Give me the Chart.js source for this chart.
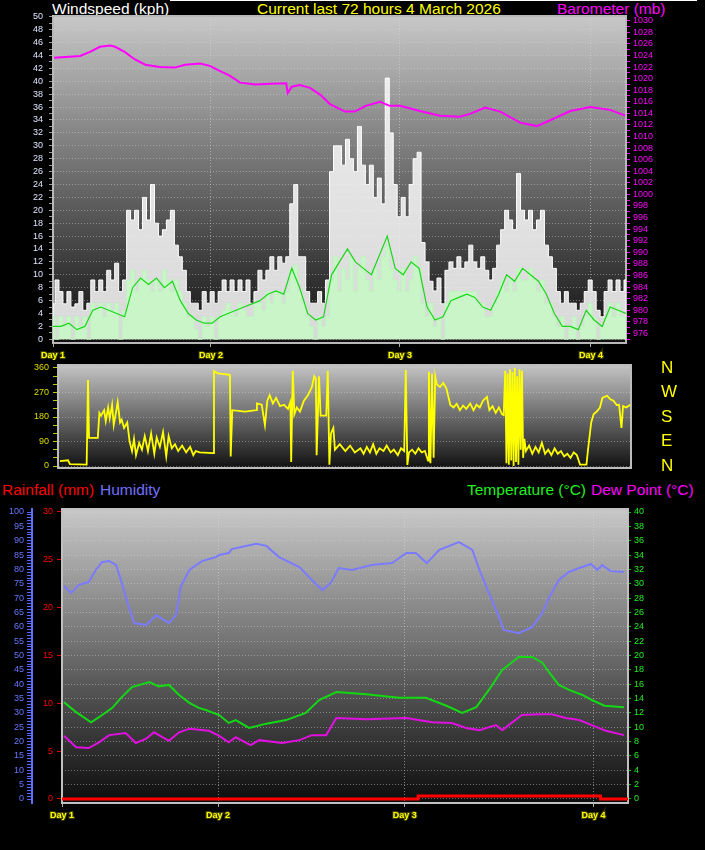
<!DOCTYPE html>
<html>
<head>
<meta charset="utf-8">
<script src="https://cdn.jsdelivr.net/npm/chart.js@4.4.1/dist/chart.umd.min.js"></script>
<style>
  body { margin: 0; background: #000; width: 705px; height: 850px; overflow: hidden; position: relative;
         font-family: 'Liberation Sans', Arial, sans-serif; }
  canvas { position: absolute; left: 0; }
  .t { position: absolute; white-space: nowrap; font-size: 15.5px; line-height: 16px; }
</style>
</head>
<body>
<div style="position:absolute;left:170px;top:0;width:527px;height:1px;background:#fff"></div>
<div class="t" style="left:52px;top:1px;color:#fff">Windspeed (kph)</div>
<div class="t" style="left:257px;top:1px;color:#ffff00">Current last 72 hours 4 March 2026</div>
<div class="t" style="left:557px;top:1px;color:#ff00ff">Barometer (mb)</div>
<div class="t" style="left:2px;top:482px;color:#ff0000">Rainfall (mm)</div>
<div class="t" style="left:100px;top:482px;color:#7070ff">Humidity</div>
<div class="t" style="left:467px;top:482px;color:#22ee22">Temperature (°C)</div>
<div class="t" style="left:591px;top:482px;color:#ff00ff">Dew Point (°C)</div>

<canvas id="windChart" width="705" height="360" style="top:0"></canvas>
<canvas id="dirChart" width="705" height="130" style="top:355px"></canvas>
<canvas id="climateChart" width="705" height="350" style="top:500px"></canvas>

<script>
// x axis: hours since start of the 72 hour window
const dayTicks = [0, 19.85, 43.6, 67.6];
const dayLabels = ['Day 1', 'Day 2', 'Day 3', 'Day 4'];

// tick labels
const windTicks = [0, 2, 4, 6, 8, 10, 12, 14, 16, 18, 20, 22, 24, 26, 28, 30, 32, 34, 36, 38, 40, 42, 44, 46, 48, 50];
const baroTicks = [976, 978, 980, 982, 984, 986, 988, 990, 992, 994, 996, 998, 1000, 1002, 1004, 1006, 1008, 1010,
  1012, 1014, 1016, 1018, 1020, 1022, 1024, 1026, 1028, 1030];
const dirTicks = [0, 90, 180, 270, 360];
const compassLabels = ['N', 'E', 'S', 'W', 'N'];
const humTicks = [0, 5, 10, 15, 20, 25, 30, 35, 40, 45, 50, 55, 60, 65, 70, 75, 80, 85, 90, 95, 100];
const rainTicks = [0, 5, 10, 15, 20, 25, 30];
const tempTicks = [0, 2, 4, 6, 8, 10, 12, 14, 16, 18, 20, 22, 24, 26, 28, 30, 32, 34, 36, 38, 40];

// wind gust, half-hourly (kph)
const windGust = [
  5.5, 9.2, 7.4, 5.5, 7.4, 5.0, 5.5, 7.4, 4.5, 5.6,
  9.2, 7.4, 9.2, 7.4, 10.7, 9.2, 11.8, 7.4, 9.2, 20,
  18.5, 20, 17, 22, 18.5, 24, 18, 16, 17, 18.5,
  20, 14.6, 12.8, 10.7, 7.4, 5.6, 5.6, 4.5, 7.4, 5.6,
  7.4, 5.6, 7.4, 9.2, 7.4, 9.2, 7.4, 9.2, 7.4, 9.2,
  5.6, 7.4, 10.7, 9.2, 10.7, 12.8, 10.7, 12.8, 11.8, 12.8,
  21, 24, 12.8, 12.8, 7.4, 5.6, 5.6, 7.4, 5.6, 9.2,
  26, 30, 30, 27, 31, 28, 26, 33, 27, 24,
  27, 22, 25, 21, 40.5, 32, 24, 19, 22, 19,
  24, 28, 29, 15, 12, 9, 7.5, 9.5, 5.5, 10.7,
  12, 11, 12.8, 11, 12, 14.6, 12, 11, 12.8, 10.7,
  9.2, 11, 14.6, 17, 20, 18.5, 17, 25.7, 20, 18.5,
  20, 17, 18.5, 20, 14.6, 12.8, 11, 7.4, 5.6, 7.4,
  5.6, 5.6, 4.5, 5.6, 7.4, 9.2, 7.4, 4.5, 3.5, 7.4,
  9.2, 7.4, 9.2, 7.4, 9.2
];
// wind speed, half-hourly (kph)
const windSpeed = [
  3.5, 0, 3.5, 2, 3.5, 0, 3.5, 2, 3.5, 0,
  5.6, 4.5, 5.6, 3.5, 5.6, 4.5, 5.6, 0, 4.5, 9.2,
  10.7, 7.4, 9.2, 10.7, 9.2, 7.4, 9.2, 7.4, 10.7, 9.2,
  7.4, 9.2, 7.4, 5.6, 3.5, 3.5, 1.5, 0, 3.5, 2,
  3.5, 0, 3.5, 4.5, 5.6, 4.5, 3.5, 5.6, 4.5, 3.5,
  3.5, 5.6, 5.6, 4.5, 7.4, 5.6, 7.4, 7.4, 5.6, 7.4,
  10.7, 11.5, 7.4, 5.6, 3.5, 2, 0, 3.5, 2, 3.5,
  9.2, 12.8, 7.4, 11, 9.2, 12.8, 7.4, 11, 12.8, 9.2,
  7.4, 11, 9.2, 12.8, 14.6, 11, 9.2, 7.4, 11, 7.4,
  9.2, 12.8, 11, 5.6, 3.5, 5.6, 2, 3.5, 0, 5.6,
  7.4, 7.4, 7.4, 7.4, 7.4, 7.4, 7.4, 5.6, 5.6, 3.5,
  3.5, 5.6, 7.4, 9.2, 7.4, 9.2, 7.4, 11, 9.2, 9.2,
  11, 9.2, 7.4, 9.2, 5.6, 5.6, 3.5, 2, 3.5, 0,
  2, 3.5, 0, 2, 3.5, 5.6, 3.5, 0, 2, 3.5,
  5.6, 3.5, 5.6, 3.5, 3.5
];
// average wind, hourly (kph)
const windAverage = [
  2, 2, 2.5, 1.5, 2, 4.5, 5, 4.5, 4, 3.5,
  8, 9.5, 8.5, 9.5, 8, 9, 6, 4, 3, 2.5,
  2.5, 3.5, 4, 4.5, 5, 5.5, 6, 7, 7.5, 7,
  11, 8, 4, 3, 3.5, 10, 12, 14, 12, 11,
  10, 13, 16, 11, 10, 12, 11, 5, 3, 3.5,
  6, 6.5, 7, 6.5, 5, 4.5, 7, 10, 9, 11,
  10, 9, 7, 4, 2, 2, 1.5, 4.5, 3, 2,
  5, 4.5, 4
];

// barometer (mb)
const baroHours = [0.13, 3.4, 4.65, 5.9, 7.2, 7.8, 9.0, 10.3, 11.6, 13.4,
  15.3, 16.6, 18.5, 19.7, 21.0, 22.2, 23.5, 25.4, 27.3, 29.3,
  29.5, 30.0, 31.0, 32.3, 33.6, 34.8, 36.7, 37.9, 39.3, 41.1,
  42.3, 43.6, 46.1, 48.6, 51.1, 52.4, 54.3, 56.2, 58.7, 60.8,
  63.1, 65.0, 67.5, 70.0, 71.9];
const baroValues = [1023.6, 1023.9, 1024.6, 1025.5, 1025.7, 1025.5, 1024.6, 1023.3, 1022.4, 1022.0,
  1021.9, 1022.4, 1022.6, 1022.2, 1021.3, 1020.5, 1019.3, 1019.0, 1019.1, 1019.2,
  1017.5, 1018.6, 1018.9, 1018.4, 1017.2, 1015.6, 1014.3, 1014.3, 1015.3, 1016.0,
  1015.3, 1015.3, 1014.4, 1013.6, 1013.4, 1013.9, 1015.0, 1014.3, 1012.4, 1011.8,
  1013.2, 1014.4, 1015.1, 1014.6, 1013.6];

// wind direction (degrees)
const dirHours = [0.25, 1.26, 1.5, 3.6, 3.77, 3.9, 5.0, 5.2, 5.4, 5.8,
  6.0, 6.3, 6.5, 6.8, 7.0, 7.3, 7.5, 7.8, 8.0, 8.3,
  8.7, 9.0, 9.3, 9.55, 9.8, 10.2, 10.55, 10.9, 11.3, 11.7,
  12.1, 12.4, 12.8, 13.2, 13.6, 13.9, 14.3, 14.7, 15.1, 15.6,
  16.1, 16.6, 17.0, 17.3, 17.8, 19.5, 19.6, 20.1, 21.6, 21.7,
  21.9, 23.5, 24.9, 25.0, 25.6, 26.0, 26.3, 26.6, 27.0, 27.4,
  27.9, 28.4, 28.9, 29.2, 29.3, 29.5, 29.7, 30.0, 30.4, 30.9,
  31.4, 31.9, 32.2, 32.4, 32.5, 32.8, 33.0, 33.7, 33.9, 34.1,
  34.3, 34.6, 34.8, 35.4, 36.1, 36.7, 37.3, 38.0, 38.4, 38.8,
  39.2, 39.6, 40.0, 40.4, 40.9, 41.3, 41.8, 42.2, 42.7, 43.1,
  43.5, 43.7, 43.9, 44.1, 44.5, 44.9, 45.3, 45.7, 46.1, 46.5,
  46.6, 46.8, 47.0, 47.2, 47.4, 47.6, 48.0, 48.4, 48.8, 49.3,
  49.7, 50.1, 50.5, 50.9, 51.3, 51.8, 52.2, 52.6, 53.0, 53.4,
  53.9, 54.2, 54.6, 55.0, 55.4, 55.8, 56.0, 56.2, 56.35, 56.5,
  56.65, 56.8, 56.95, 57.1, 57.25, 57.4, 57.55, 57.7, 57.85, 58.0,
  58.15, 58.3, 58.45, 58.6, 58.8, 59.2, 59.6, 60.0, 60.4, 60.8,
  61.2, 61.6, 62.0, 62.4, 62.8, 63.2, 63.6, 64.0, 64.4, 64.8,
  65.2, 65.6, 66.4, 66.6, 67.0, 67.3, 67.7, 68.1, 68.4, 69.0,
  69.4, 69.8, 70.2, 70.5, 70.8, 71.0, 71.4, 71.9];
const dirDegrees = [18, 21, 7, 5, 316, 103, 103, 195, 185, 205,
  165, 215, 175, 225, 150, 200, 235, 160, 170, 140,
  160, 90, 55, 100, 40, 85, 60, 110, 55, 120,
  45, 105, 70, 125, 35, 110, 65, 80, 55, 75,
  50, 70, 40, 55, 50, 47, 349, 340, 335, 35,
  205, 200, 205, 230, 225, 150, 240, 260, 230, 250,
  220, 225, 210, 235, 15, 350, 190, 215, 200, 240,
  260, 290, 330, 320, 40, 330, 185, 185, 350, 5,
  120, 140, 60, 80, 55, 75, 50, 65, 45, 70,
  50, 80, 45, 65, 55, 75, 50, 60, 40, 65,
  55, 353, 4, 50, 60, 45, 65, 50, 55, 20,
  346, 10, 340, 30, 330, 300, 290, 305, 285, 224,
  215, 228, 205, 222, 210, 230, 205, 225, 215, 240,
  254, 205, 220, 195, 215, 190, 187, 350, 10, 340,
  5, 355, 20, 345, 0, 360, 15, 330, 5, 355,
  60, 350, 30, 100, 55, 75, 45, 70, 50, 85,
  45, 60, 40, 65, 45, 55, 35, 45, 30, 50,
  40, 5, 5, 60, 160, 190, 200, 215, 250, 258,
  245, 240, 224, 225, 140, 220, 215, 225];

// humidity (%)
const humHours = [0.25, 1.15, 2.15, 3.4, 4.3, 5.1, 6.0, 6.9, 7.6, 8.5,
  9.2, 10.7, 12.0, 13.6, 14.5, 15.1, 16.2, 17.8, 19.6, 20.0,
  21.2, 21.6, 24.7, 26.0, 27.6, 30.2, 31.8, 33.1, 34.2, 35.2,
  36.9, 39.4, 42.0, 43.8, 45.0, 46.4, 48.0, 50.5, 52.2, 53.1,
  54.3, 55.6, 56.2, 58.1, 59.8, 61.1, 62.0, 63.2, 64.5, 65.8,
  67.3, 68.1, 68.7, 69.8, 71.5];
const humValues = [74.2, 71.8, 74.6, 75.6, 79.8, 82.6, 82.9, 81.5, 75.3, 66.9,
  61.3, 60.6, 64.1, 61.3, 64.1, 73.9, 79.8, 82.9, 84.3, 85.0,
  85.7, 87.1, 88.9, 88.2, 84.3, 80.8, 76.3, 72.8, 75.3, 80.5,
  79.8, 81.5, 82.2, 85.7, 85.7, 82.2, 86.8, 89.5, 86.8, 79.8,
  71.8, 63.4, 58.9, 57.8, 59.9, 64.8, 70.4, 76.3, 79.1, 80.5,
  81.9, 79.8, 81.5, 79.4, 79.1];

// temperature (°C)
const tempHours = [0.25, 1.8, 3.7, 4.7, 6.4, 7.6, 8.9, 11.1, 12.3, 13.6,
  14.9, 16.2, 17.4, 18.3, 20.0, 21.2, 22.1, 23.8, 26.0, 28.5,
  31.0, 32.7, 34.9, 38.7, 42.9, 46.3, 48.9, 50.9, 52.7, 54.3,
  56.0, 58.1, 59.8, 61.1, 62.0, 63.2, 64.5, 66.2, 67.4, 69.0,
  71.5];
const tempValues = [13.5, 12.1, 10.7, 11.4, 12.7, 14.2, 15.6, 16.3, 15.7, 15.9,
  14.5, 13.4, 12.7, 12.4, 11.7, 10.6, 11.0, 9.9, 10.5, 11.0,
  12.0, 13.8, 14.9, 14.6, 14.1, 14.1, 13.0, 12.0, 12.8, 15.2,
  18.0, 19.8, 19.8, 19.0, 17.6, 15.9, 15.2, 14.5, 13.8, 13.0,
  12.8];

// dew point (°C)
const dewHours = [0.25, 1.8, 3.4, 4.7, 6.0, 8.1, 9.4, 10.7, 11.7, 13.6,
  14.9, 16.2, 18.7, 20.0, 21.2, 22.1, 24.0, 25.1, 28.0, 30.2,
  31.8, 33.6, 34.9, 38.7, 43.8, 47.1, 49.6, 51.4, 53.1, 55.2,
  56.0, 58.5, 60.7, 62.3, 64.1, 65.8, 67.4, 69.2, 71.5];
const dewValues = [8.8, 7.2, 7.1, 7.9, 8.9, 9.2, 7.8, 8.4, 9.3, 8.1,
  9.3, 9.8, 9.5, 8.8, 7.9, 8.6, 7.5, 8.2, 7.8, 8.2,
  8.9, 8.9, 11.3, 11.1, 11.3, 10.7, 10.6, 9.9, 9.6, 10.3,
  9.6, 11.7, 11.8, 11.8, 11.3, 11.0, 10.3, 9.5, 8.9];

// rainfall today (mm)
const rainHours = [0, 45.3, 68.5, 72];
const rainValues = [0, 0.3, 0, 0];

// ---------------------------------------------------------------
const pts = (xs, ys) => ys.map((y, i) => ({ x: xs[i], y }));
const every = (ys, step) => ys.map((y, i) => ({ x: i * step, y }));
function tickRange(from, to, step) {
  const out = [];
  for (let v = from; v <= to + 1e-9; v += step) out.push({ value: Math.round(v * 100) / 100 });
  return out;
}
const asTicks = list => list.map(v => ({ value: v }));
// fixed axis size, no extra room for half labels
const fixWidth = w => s => { s.width = w; s.paddingTop = 0; s.paddingBottom = 0; };

Chart.defaults.font.family = "'Liberation Sans', Arial, sans-serif";
Chart.defaults.font.size = 9;
Chart.defaults.animation = false;
Chart.defaults.plugins.legend.display = false;
Chart.defaults.plugins.tooltip.enabled = false;
Chart.defaults.elements.point.radius = 0;
Chart.defaults.elements.line.tension = 0;

// grey gradient behind each plot and a light frame round it
Chart.register({
  id: 'plotFrame',
  beforeDraw(chart, args, opts) {
    const { ctx, chartArea: a } = chart;
    const g = ctx.createLinearGradient(0, a.top, 0, a.bottom);
    g.addColorStop(0, opts.top || '#c8c8c8');
    g.addColorStop(1, opts.bottom || '#0c0c0c');
    ctx.save();
    ctx.fillStyle = g;
    ctx.fillRect(a.left, a.top, a.right - a.left, a.bottom - a.top);
    ctx.restore();
  },
  beforeDatasetsDraw(chart, args, opts) {
    const { ctx, chartArea: a } = chart;
    ctx.save();
    ctx.strokeStyle = opts.edge || '#b4b4b4';
    ctx.lineWidth = 2;
    ctx.strokeRect(a.left, a.top, a.right - a.left, a.bottom - a.top);
    ctx.restore();
  }
});

const gridDot = 'rgba(215,215,215,0.45)';

function dayAxis(height, showLabels, showGrid) {
  return {
    type: 'linear', min: 0, max: 72,
    afterBuildTicks: s => { s.ticks = asTicks(dayTicks); },
    afterFit: s => { s.height = height; s.paddingLeft = 0; s.paddingRight = 0; },
    ticks: {
      display: showLabels, autoSkip: false, maxRotation: 0, padding: 3,
      color: '#ffff00', font: { size: 9, weight: 'bold' },
      textStrokeColor: 'rgba(70,70,0,0.9)', textStrokeWidth: 2,
      callback: (v, i) => dayLabels[i]
    },
    grid: { display: showGrid, color: 'rgba(215,215,215,0.55)', tickColor: '#aaaaaa', tickLength: 4 },
    border: { display: false, dash: [1, 2] }
  };
}

// wind speed + barometer
new Chart(document.getElementById('windChart'), {
  type: 'line',
  data: {
    datasets: [
      { data: pts(baroHours, baroValues), yAxisID: 'yBaro', borderColor: '#ff00ff', borderWidth: 2, order: 0 },
      { data: every(windAverage, 1), yAxisID: 'yWind', borderColor: '#18d818', borderWidth: 1.2, order: 1 },
      { data: every(windSpeed, 0.5), yAxisID: 'yWind', stepped: 'middle', borderColor: '#bff3bf', borderWidth: 1,
        backgroundColor: '#c9f5c9', fill: 'origin', order: 2 },
      { data: every(windGust, 0.5), yAxisID: 'yWind', stepped: 'middle', borderColor: '#ffffff', borderWidth: 1,
        backgroundColor: 'rgba(245,245,245,0.88)', fill: 'origin', order: 3 }
    ]
  },
  options: {
    responsive: false,
    layout: { padding: { top: 16, left: 0, right: 0, bottom: 0 } },
    plugins: { plotFrame: { top: '#c8c8c8', bottom: '#0e0e0e', edge: '#b8b8b8' } },
    scales: {
      x: dayAxis(17, true, true),
      yWind: {
        position: 'left', min: -0.57, max: 50.12,
        afterBuildTicks: s => { s.ticks = tickRange(0, 50, 1); },
        afterFit: fixWidth(53),
        ticks: { color: '#dfe6ff', padding: 6, autoSkip: false, callback: v => windTicks.includes(v) ? v : '' },
        grid: { color: c => windTicks.includes(c.tick && c.tick.value) ? gridDot : 'rgba(0,0,0,0)',
                tickColor: '#9a9a9a', tickLength: 4 },
        border: { display: true, color: '#d8d8d8', width: 2, dash: [1, 2] }
      },
      yBaro: {
        position: 'right', min: 974.34, max: 1030.81,
        afterBuildTicks: s => { s.ticks = tickRange(975, 1030, 1); },
        afterFit: fixWidth(79),
        ticks: { color: '#ff00ff', padding: 3, autoSkip: false, callback: v => baroTicks.includes(v) ? v : '' },
        grid: { drawOnChartArea: false, color: '#ff00ff', tickLength: 4 },
        border: { display: true, color: '#cc00cc', width: 1 }
      }
    }
  }
});

// wind direction
new Chart(document.getElementById('dirChart'), {
  type: 'line',
  data: {
    datasets: [
      { data: pts(dirHours, dirDegrees), yAxisID: 'yDir', borderColor: '#ffff00', borderWidth: 1.8 }
    ]
  },
  options: {
    responsive: false,
    layout: { padding: { top: 10, left: 0, right: 0, bottom: 0 } },
    plugins: { plotFrame: { top: '#c4c4c4', bottom: '#111111', edge: '#bcbcbc' } },
    scales: {
      x: dayAxis(17, false, false),
      yDir: {
        position: 'left', min: -7.3, max: 371,
        afterBuildTicks: s => { s.ticks = tickRange(0, 360, 30); },
        afterFit: fixWidth(58),
        ticks: { color: '#dcdc00', padding: 4, autoSkip: false, callback: v => dirTicks.includes(v) ? v : '' },
        grid: { color: c => dirTicks.includes(c.tick && c.tick.value) ? gridDot : 'rgba(0,0,0,0)',
                tickColor: '#c8c800', tickLength: 5 },
        border: { display: true, color: '#e6e6e6', width: 2, dash: [1, 2] }
      },
      yCompass: {
        position: 'right', min: -7.3, max: 371,
        afterBuildTicks: s => { s.ticks = asTicks(dirTicks); },
        afterFit: fixWidth(74),
        ticks: { color: '#ffff00', padding: 22, autoSkip: false,
                 font: { family: "'Liberation Sans Narrow', 'Liberation Sans', sans-serif", size: 17 },
                 callback: (v, i) => compassLabels[i] },
        grid: { display: false },
        border: { display: false }
      }
    }
  }
});

// rainfall, humidity, temperature, dew point
new Chart(document.getElementById('climateChart'), {
  type: 'line',
  data: {
    datasets: [
      { data: pts(rainHours, rainValues), yAxisID: 'yRain', stepped: true, borderColor: '#ff0000', borderWidth: 3, order: 0 },
      { data: pts(humHours, humValues), yAxisID: 'yHum', borderColor: '#7b7bff', borderWidth: 2, order: 1 },
      { data: pts(tempHours, tempValues), yAxisID: 'yTemp', borderColor: '#14d814', borderWidth: 2, order: 2 },
      { data: pts(dewHours, dewValues), yAxisID: 'yTemp', borderColor: '#e010e0', borderWidth: 2, order: 3 }
    ]
  },
  options: {
    responsive: false,
    layout: { padding: { top: 9, left: 0, right: 0, bottom: 0 } },
    plugins: { plotFrame: { top: '#c8c8c8', bottom: '#0c0c0c', edge: '#c0c0c0' } },
    scales: {
      x: dayAxis(47, true, true),
      yHum: {
        position: 'left', weight: 2, min: -1.39, max: 101.05,
        afterBuildTicks: s => { s.ticks = tickRange(0, 100, 1); },
        afterFit: fixWidth(32),
        ticks: { color: '#6878ff', padding: 3, autoSkip: false, callback: v => humTicks.includes(v) ? v : '' },
        grid: { drawOnChartArea: false, color: '#5a66ff', tickLength: 5 },
        border: { display: true, color: '#6070ff', width: 2 }
      },
      yRain: {
        position: 'left', weight: 1, min: -0.42, max: 30.31,
        afterBuildTicks: s => { s.ticks = asTicks(rainTicks); },
        afterFit: fixWidth(30),
        ticks: { color: '#ff0000', padding: 4, autoSkip: false },
        grid: { drawOnChartArea: false, color: '#dd0000', tickLength: 5 },
        border: { display: false }
      },
      yTemp: {
        position: 'right', min: -0.56, max: 40.42,
        afterBuildTicks: s => { s.ticks = asTicks(tempTicks); },
        afterFit: fixWidth(77),
        ticks: { color: '#22ee22', padding: 3, autoSkip: false },
        grid: { color: gridDot, tickColor: '#00c000', tickLength: 3 },
        border: { display: true, color: '#00c000', width: 1, dash: [1, 2] }
      }
    }
  }
});
</script>
</body>
</html>
